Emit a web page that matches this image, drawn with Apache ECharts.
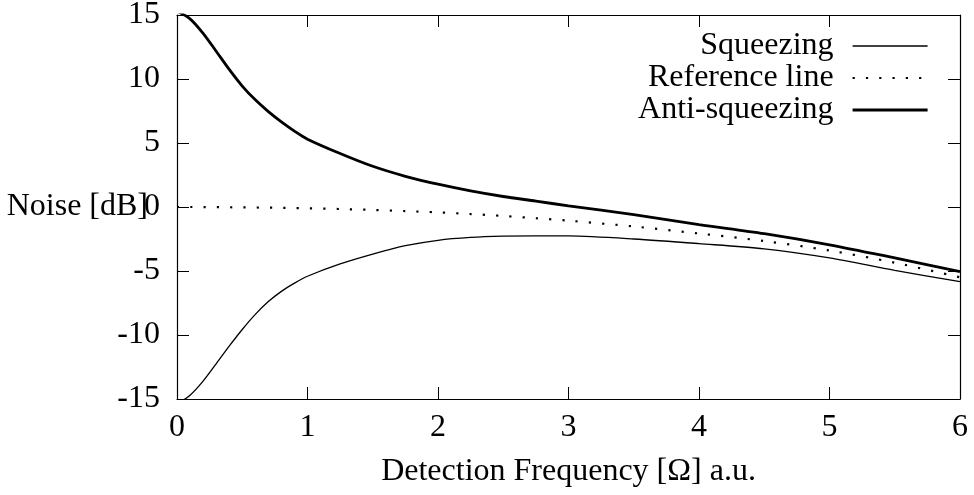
<!DOCTYPE html>
<html>
<head>
<meta charset="utf-8">
<script src="https://cdn.jsdelivr.net/npm/echarts@6/dist/echarts.min.js"></script>
<style>html,body{margin:0;padding:0;background:#fff}#c{width:974px;height:495px}</style>
</head>
<body>
<div id="c"></div>
<script>
var xValues = [0, 0.1, 0.2, 0.3, 0.4, 0.5, 0.6, 0.7, 0.8, 0.9, 1.0, 1.25, 1.5, 1.75, 2.0, 2.25, 2.5, 2.75, 3.0, 3.5, 4.0, 4.5, 5.0, 5.5, 6.0];
var squeezing = [-15.4, -14.7, -13.6, -12.25, -10.87, -9.57, -8.39, -7.39, -6.59, -5.95, -5.41, -4.45, -3.68, -3.02, -2.6, -2.38, -2.28, -2.25, -2.26, -2.5, -2.86, -3.27, -3.98, -4.95, -5.83];
var referenceLine = [0, 0, -0.01, -0.01, -0.02, -0.03, -0.04, -0.05, -0.07, -0.08, -0.1, -0.16, -0.23, -0.32, -0.42, -0.55, -0.7, -0.88, -1.07, -1.52, -2.07, -2.66, -3.4, -4.35, -5.49];
var antiSqueezing = [15.3, 14.7, 13.57, 12.17, 10.75, 9.45, 8.37, 7.45, 6.65, 5.93, 5.3, 4.18, 3.18, 2.4, 1.78, 1.26, 0.82, 0.46, 0.09, -0.6, -1.37, -2.08, -2.95, -3.98, -5.05];
var seriesNames = ['Squeezing', 'Reference line', 'Anti-squeezing'];
var xTicks = [0, 1, 2, 3, 4, 5, 6];
var yTicks = [-15, -10, -5, 0, 5, 10, 15];

function pairs(ys) { return xValues.map(function (x, i) { return [x, ys[i]]; }); }
var FONT = '"Liberation Serif", "DejaVu Serif", serif';
var FS = 32;
var widths = [1.3, 2.2, 2.8];
var dotted = [2.2, 11.1];
var chart = echarts.init(document.getElementById('c'), null, {renderer: 'canvas'});
var axisLine = {show: true, onZero: false, lineStyle: {color: '#000', width: 1.2}};
var tick = {show: true, inside: true, length: 12, lineStyle: {color: '#000', width: 1}};
chart.setOption({
  animation: false,
  backgroundColor: '#fff',
  grid: {left: 177, right: 14, top: 15, bottom: 96, outerBoundsMode: 'none', containLabel: false},
  legend: {
    orient: 'vertical', right: 40, top: 25, align: 'right',
    itemWidth: 75, itemHeight: 14, itemGap: 0,
    data: [
      {name: seriesNames[0], lineStyle: {color: '#000', width: widths[0], type: 'solid'}},
      {name: seriesNames[1], lineStyle: {color: '#000', width: widths[1], type: dotted}},
      {name: seriesNames[2], lineStyle: {color: '#000', width: widths[2], type: 'solid'}}
    ],
    itemStyle: {opacity: 0},
    textStyle: {fontFamily: FONT, fontSize: FS, color: '#000', lineHeight: 30, padding: [0, 14, 0, 0]}
  },
  xAxis: [{
    type: 'value', min: xTicks[0], max: xTicks[xTicks.length - 1], interval: 1,
    axisLine: axisLine, axisTick: tick, splitLine: {show: false},
    axisLabel: {fontFamily: FONT, fontSize: FS, color: '#000', margin: 13},
    name: 'Detection Frequency [\u03A9] a.u.', nameLocation: 'middle', nameGap: 57,
    nameTextStyle: {fontFamily: FONT, fontSize: FS, color: '#000'}
  }, {
    type: 'value', position: 'top', min: 0, max: 6, interval: 1,
    axisLine: axisLine, axisTick: tick, axisLabel: {show: false}, splitLine: {show: false}
  }],
  yAxis: [{
    type: 'value', min: yTicks[0], max: yTicks[yTicks.length - 1], interval: 5,
    axisLine: axisLine, axisTick: tick, splitLine: {show: false},
    axisLabel: {fontFamily: FONT, fontSize: FS, color: '#000', margin: 17},
    name: 'Noise [dB]', nameLocation: 'middle', nameRotate: 0, nameGap: 29, nameMoveOverlap: false,
    nameTextStyle: {fontFamily: FONT, fontSize: FS, color: '#000', align: 'right', verticalAlign: 'middle'}
  }, {
    type: 'value', position: 'right', min: -15, max: 15, interval: 5,
    axisLine: axisLine, axisTick: tick, axisLabel: {show: false}, splitLine: {show: false}
  }],
  series: [{
    name: seriesNames[0], type: 'line', data: pairs(squeezing), symbol: 'none', smooth: 0.3, clip: true,
    lineStyle: {color: '#000', width: widths[0]}, itemStyle: {color: '#000'}
  }, {
    name: seriesNames[1], type: 'line', data: pairs(referenceLine), symbol: 'none', smooth: 0.3, clip: true,
    lineStyle: {color: '#000', width: widths[1], type: dotted}, itemStyle: {color: '#000'}
  }, {
    name: seriesNames[2], type: 'line', data: pairs(antiSqueezing), symbol: 'none', smooth: 0.3, clip: true,
    lineStyle: {color: '#000', width: widths[2]}, itemStyle: {color: '#000'}
  }]
});
</script>
</body>
</html>
